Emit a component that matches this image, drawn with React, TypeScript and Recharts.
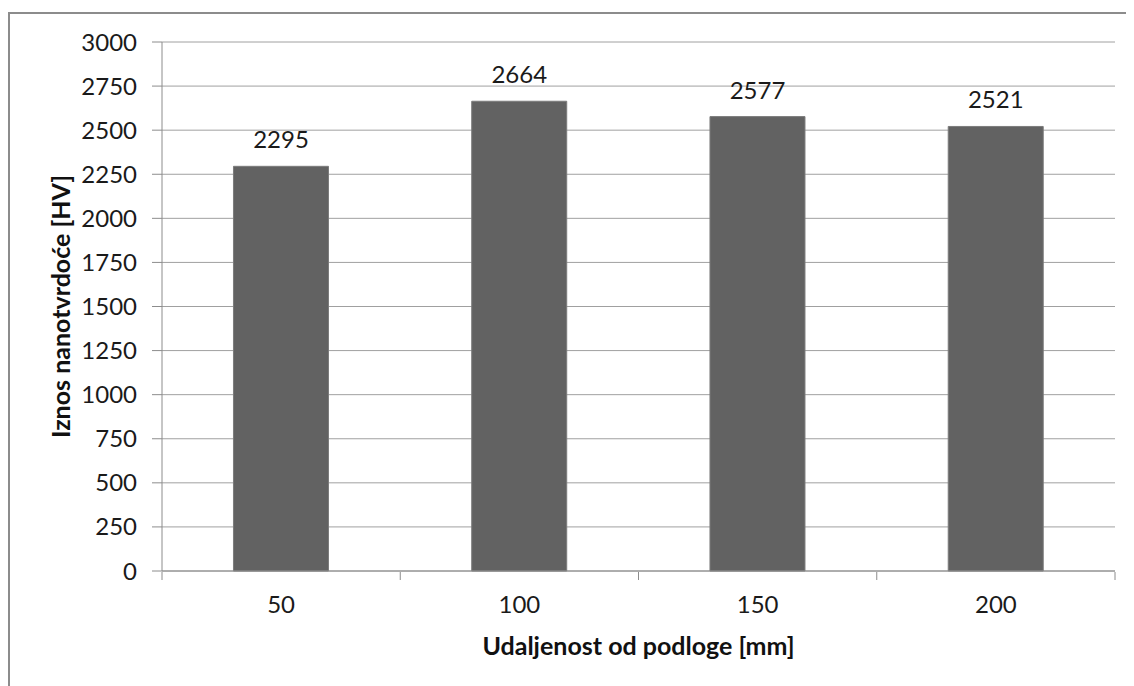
import React from "react";
import { BarChart, Bar, XAxis, YAxis, CartesianGrid, LabelList, Label } from "recharts";

const distances = ["50", "100", "150", "200"];
const hardness = [2295, 2664, 2577, 2521];
const yTicks = [0, 250, 500, 750, 1000, 1250, 1500, 1750, 2000, 2250, 2500, 2750, 3000];
const edgeTicks = [0, 1, 2, 3, 4];

const chartData = distances.map((d, i) => ({ distance: d, value: hardness[i] }));

const font = "Lato, 'Open Sans', sans-serif";
const axisGray = "#8c8c8c";

const App = () => {
    return (
        <div
            style={{
                marginTop: 4,
                width: 1130,
                height: 680,
                border: "2px solid #8c8c8c",
                fontFamily: font,
                background: "#fff",
            }}
        >
            <BarChart
                width={1124}
                height={672}
                data={chartData}
                margin={{ top: 28, right: 19, left: 10, bottom: 113 }}
                barCategoryGap="30%"
            >
                <CartesianGrid vertical={false} stroke="#a0a0a0" />
                {/* tick marks between categories, Excel style */}
                <XAxis
                    xAxisId="edge"
                    type="number"
                    dataKey={() => 0}
                    domain={[0, 4]}
                    ticks={edgeTicks}
                    allowDataOverflow
                    height={1}
                    axisLine={false}
                    tick={() => <g />}
                    tickSize={8}
                    tickLine={{ stroke: axisGray }}
                />
                <XAxis
                    dataKey="distance"
                    height={1}
                    axisLine={{ stroke: axisGray }}
                    tickLine={false}
                    tickSize={8}
                    tickMargin={17}
                    tick={{ fill: "#1a1a1a", fontSize: 24, fontFamily: font }}
                >
                    <Label
                        value="Udaljenost od podloge [mm]"
                        position="center"
                        dy={75}
                        fill="#111"
                        fontSize={25}
                        fontWeight="bold"
                        fontFamily={font}
                    />
                </XAxis>
                <YAxis
                    domain={[0, 3000]}
                    ticks={yTicks}
                    width={142}
                    axisLine={{ stroke: axisGray }}
                    tickLine={{ stroke: axisGray }}
                    tickSize={10}
                    tickMargin={15}
                    tick={{ fill: "#1a1a1a", fontSize: 24, fontFamily: font }}
                >
                    <Label
                        value="Iznos nanotvrdoće [HV]"
                        angle={-90}
                        position="center"
                        dx={-30}
                        fill="#111"
                        fontSize={25}
                        fontWeight="bold"
                        fontFamily={font}
                    />
                </YAxis>
                <Bar dataKey="value" fill="#626262" stroke="#7c7c7c" isAnimationActive={false}>
                    <LabelList
                        dataKey="value"
                        position="top"
                        offset={18}
                        fill="#1a1a1a"
                        fontSize={24}
                        fontFamily={font}
                    />
                </Bar>
            </BarChart>
        </div>
    );
};

export default App;
